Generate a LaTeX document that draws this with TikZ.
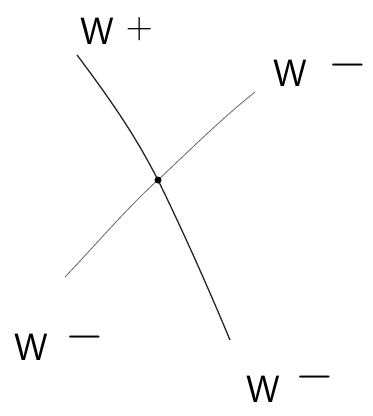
\documentclass[tikz,border=0pt]{standalone}
\newcommand{\sgn}[2]{\raisebox{#1}{\scalebox{2.0}{$#2$}}}
\begin{document}
\begin{tikzpicture}[x=1pt,y=-1pt,
  lbl/.style={font=\fontsize{38}{38}\selectfont\sffamily, inner sep=0pt, anchor=base west},
  strong/.style={line width=1.3pt, black!85},
  weak/.style={line width=0.8pt, black!60}]
\useasboundingbox (0,0) rectangle (373,416);
\coordinate (t) at (77,55);
\coordinate (b) at (230,340);
\coordinate (c) at (158,180);
\coordinate (r) at (255,92);
\coordinate (l) at (65,277);
\draw[strong] (t) .. controls (120,112) and (140,145) .. (c) .. controls (180,225) and (205,280) .. (b);
\draw[weak] (l) .. controls (100,240) and (130,205) .. (c) .. controls (190,150) and (220,120) .. (r);
\fill[black] (c) circle (3.5);
\node[lbl] (wp) at (80,44) {W\hspace{12pt}\raisebox{6pt}{\scalebox{1.5}{$+$}}};
\node[lbl] (wr) at (273,86) {W\hspace{22pt}\sgn{9pt}{-}};
\node[lbl] (wl) at (14,360) {W\hspace{18pt}\sgn{11pt}{-}};
\node[lbl] (wb) at (246,402) {W\hspace{16pt}\sgn{13pt}{-}};
\end{tikzpicture}
\end{document}
